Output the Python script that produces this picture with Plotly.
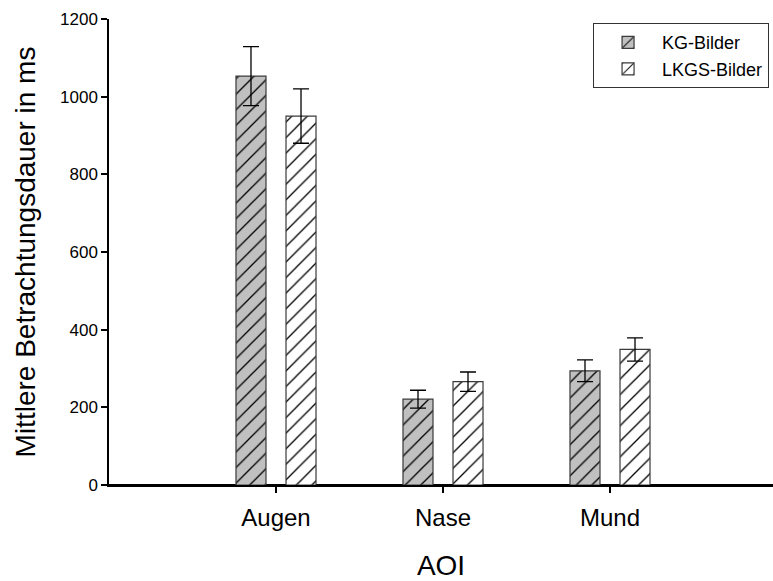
import plotly.graph_objects as go

categories = ["Augen", "Nase", "Mund"]
kg_values = [1053, 221, 294]
kg_errors = [76, 23, 28]
lkgs_values = [950, 266, 349]
lkgs_errors = [70, 25, 30]
y_ticks = [0, 200, 400, 600, 800, 1000, 1200]

FONT = "Liberation Sans, Arial, sans-serif"

fig = go.Figure()
fig.add_trace(go.Bar(
    name="KG-Bilder", x=categories, y=kg_values,
    error_y=dict(type="data", array=kg_errors, color="black", thickness=1.3, width=8),
    marker=dict(color="#c0c0c0",
                line=dict(color="#3a3a3a", width=1.2),
                pattern=dict(shape="/", fgcolor="black", bgcolor="#c0c0c0",
                             size=11, solidity=0.12, fillmode="replace")),
))
fig.add_trace(go.Bar(
    name="LKGS-Bilder", x=categories, y=lkgs_values,
    error_y=dict(type="data", array=lkgs_errors, color="black", thickness=1.3, width=8),
    marker=dict(color="white",
                line=dict(color="#3a3a3a", width=1.2),
                pattern=dict(shape="/", fgcolor="black", bgcolor="white",
                             size=11, solidity=0.12, fillmode="replace")),
))

fig.update_layout(
    width=773, height=581,
    margin=dict(l=109, r=0, t=19, b=96, pad=0),
    paper_bgcolor="white", plot_bgcolor="white",
    barmode="group", bargap=0.401, bargroupgap=0.4,
    font=dict(family=FONT, color="black"),
    showlegend=True,
    legend=dict(x=0.729, y=0.991, xanchor="left", yanchor="top",
                bordercolor="#333333", borderwidth=1, bgcolor="white",
                font=dict(size=18, family=FONT), itemwidth=58,
                traceorder="normal"),
    xaxis=dict(
        type="category", range=[-1, 2.976],
        showline=True, linecolor="black", linewidth=1.5,
        ticks="outside", ticklen=6, tickcolor="black", tickwidth=1.5,
        tickfont=dict(size=24, family=FONT), ticklabelstandoff=4,
        showgrid=False, zeroline=False, automargin=False,
        title=dict(text="AOI", font=dict(size=28, family=FONT), standoff=30),
    ),
    yaxis=dict(
        range=[0, 1200], tickvals=y_ticks,
        showline=True, linecolor="black", linewidth=1.5,
        ticks="outside", ticklen=6, tickcolor="black", tickwidth=1.5,
        tickfont=dict(size=17, family=FONT),
        showgrid=False, zeroline=True, zerolinecolor="black", zerolinewidth=1.5,
        automargin=False,
        title=dict(text="Mittlere Betrachtungsdauer in ms",
                   font=dict(size=28, family=FONT), standoff=16),
    ),
)

fig.write_html("out.html")
